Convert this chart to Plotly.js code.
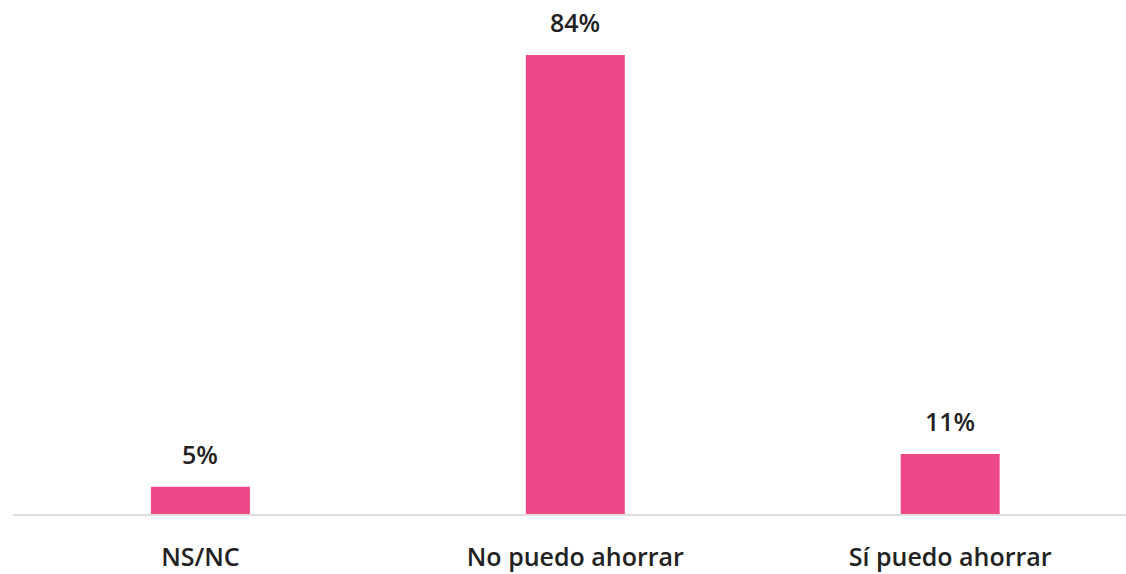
<!DOCTYPE html>
<html>
<head>
<meta charset="utf-8">
<script src="https://cdn.plot.ly/plotly-3.0.1.min.js"></script>
<style>html,body{margin:0;padding:0;background:#fff;}#chart{width:1126px;height:574px;}</style>
</head>
<body>
<div id="chart"></div>
<script>
var categories = ["NS/NC", "No puedo ahorrar", "Sí puedo ahorrar"];
var values = [5, 84, 11];
var valueLabels = ["5%", "84%", "11%"];

var barColor = "#EE4889";
var fontFam = "Open Sans, sans-serif";

var trace = {
  type: "bar",
  x: categories,
  y: values,
  width: 0.264,
  marker: {color: barColor},
  hoverinfo: "none"
};

var annotations = categories.map(function(c, i){
  return {
    x: c, y: values[i], text: valueLabels[i],
    xref: "x", yref: "y", showarrow: false,
    yanchor: "bottom", yshift: 14,
    font: {family: fontFam, size: 25, color: "#222222", weight: 600}
  };
});

var layout = {
  width: 1126, height: 574,
  margin: {l: 12.5, r: 0, t: 0, b: 60},
  paper_bgcolor: "#ffffff",
  plot_bgcolor: "#ffffff",
  showlegend: false,
  xaxis: {
    type: "category",
    range: [-0.5, 2.469],
    showline: true, linecolor: "#dedede", linewidth: 2,
    showgrid: false, zeroline: false,
    ticks: "", ticklabelstandoff: 20,
    tickfont: {family: fontFam, size: 25, color: "#222222", weight: 600},
    fixedrange: true
  },
  yaxis: {
    range: [0, 94.07],
    visible: false, showgrid: false, zeroline: false,
    fixedrange: true
  },
  annotations: annotations
};

Plotly.newPlot("chart", [trace], layout, {displayModeBar: false, staticPlot: true});
</script>
</body>
</html>
